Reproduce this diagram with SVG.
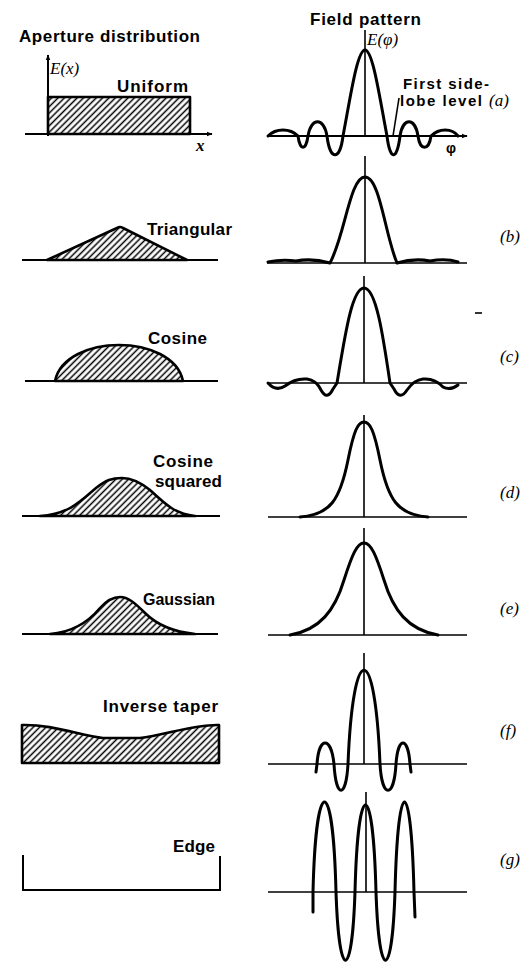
<svg xmlns="http://www.w3.org/2000/svg" width="524" height="962" viewBox="0 0 524 962">
<style>
.curve{fill:none;stroke:#000;stroke-width:3;stroke-linejoin:round;stroke-linecap:round}
.thin{fill:none;stroke:#000;stroke-width:1.6}
.base{fill:none;stroke:#000;stroke-width:2}
.shape{fill:url(#hatch);stroke:#000;stroke-width:2.6;stroke-linejoin:round}
.lbl{font-family:"Liberation Sans",Arial,sans-serif;font-size:17px;font-weight:bold;fill:#000}
.sm{font-size:15px}
.it{font-family:"Liberation Serif","Times New Roman",serif;font-style:italic;font-size:17px;fill:#000}
</style>
<defs>
<pattern id="hatch" patternUnits="userSpaceOnUse" width="4.5" height="4.5" patternTransform="rotate(45)">
<rect width="4.5" height="4.5" fill="#fff"/>
<line x1="2.25" y1="0" x2="2.25" y2="4.5" stroke="#000" stroke-width="1.5"/>
</pattern>
<marker id="arr" viewBox="0 0 10 10" refX="9" refY="5" markerWidth="6" markerHeight="6" orient="auto" markerUnits="userSpaceOnUse">
<path d="M0,1 L10,5 L0,9 Z" fill="#000"/>
</marker>
</defs>
<rect width="524" height="962" fill="#fff"/>

<!-- headings -->
<text class="lbl" x="19" y="42" textLength="181">Aperture distribution</text>
<text class="lbl" x="310" y="25" textLength="111">Field pattern</text>

<!-- (a) uniform -->
<g id="aperture-uniform">
<rect class="shape" x="48" y="97" width="142" height="37"/>
<line class="base" x1="48" y1="136" x2="48" y2="55" marker-end="url(#arr)"/>
<line class="base" x1="25" y1="134" x2="212" y2="134" marker-end="url(#arr)"/>
<text class="it" x="50" y="74">E(x)</text>
<text class="lbl" x="117" y="92" textLength="71">Uniform</text>
<text class="it" x="196" y="151" font-weight="bold">x</text>
</g>
<g id="pattern-a">
<line class="base" x1="268" y1="136" x2="467" y2="136" marker-end="url(#arr)"/>
<line class="thin" x1="365" y1="30" x2="365" y2="136"/>
<path class="curve" d="M268,136 C276,128 290,128 298,136 C300,151 306,151 308,136 C311,117 324,117 327,136 C330,161 340,161 343,136 C350,100 357,50 365,50 C373,50 380,100 387,136 C390,161 397,161 400,136 C403,117 415,117 418,136 C420,151 429,151 431,136 C439,128 452,128 458,136"/>
<line class="thin" x1="399" y1="98" x2="393" y2="136"/>
<text class="it" x="367" y="45">E(φ)</text>
<text class="lbl sm" x="403" y="89" textLength="86">First side-</text>
<text class="lbl sm" x="400" y="106" textLength="82">lobe level</text>
<text class="it" x="489" y="106">(a)</text>
<text class="lbl" x="446" y="153" style="font-size:14px">φ</text>
</g>

<!-- (b) triangular -->
<g id="aperture-triangular">
<line class="base" x1="22" y1="260" x2="218" y2="260"/>
<path class="shape" d="M47,260 L117,228 Q120,226 123,228 L187,260 Z"/>
<text class="lbl" x="147" y="235" textLength="85">Triangular</text>
</g>
<g id="pattern-b">
<line class="thin" x1="267" y1="263" x2="467" y2="263"/>
<line class="thin" x1="365" y1="156" x2="365" y2="263"/>
<path class="curve" d="M268,262 Q282,259 296,261 Q312,258 330,263 C345,235 350,177 365,177 C380,177 385,235 397,263 Q414,258 430,261 Q446,258 458,262"/>
<text class="it" x="500" y="242">(b)</text>
</g>

<!-- (c) cosine -->
<g id="aperture-cosine">
<line class="base" x1="25" y1="381" x2="218" y2="381"/>
<path class="shape" d="M55,381 C60,357 90,345 119,345 C148,345 178,357 183,381 Z"/>
<text class="lbl" x="148" y="344" textLength="59">Cosine</text>
</g>
<g id="pattern-c">
<line class="thin" x1="267" y1="383" x2="467" y2="383"/>
<line class="thin" x1="364" y1="276" x2="364" y2="383"/>
<path class="curve" d="M268,383 Q276,392 285,386 Q295,378 307,379 Q316,380 321,390 Q327,401 333,389 L337,383 C345,335 352,288 364,288 C376,288 383,335 390,383 L394,389 Q400,401 407,390 Q414,380 423,379 Q435,378 443,387 Q450,391 458,385"/>
<line class="thin" x1="475" y1="313" x2="482" y2="313"/>
<text class="it" x="500" y="362">(c)</text>
</g>

<!-- (d) cosine squared -->
<g id="aperture-cosine-squared">
<line class="base" x1="22" y1="516" x2="220" y2="516"/>
<path class="shape" d="M40,516 C70,514 82,500 96,488 C106,480 112,478 122,478 C132,478 140,482 150,490 C165,504 175,514 195,516 Z"/>
<text class="lbl" x="153" y="467" textLength="60">Cosine</text>
<text class="lbl" x="155" y="487" textLength="67">squared</text>
</g>
<g id="pattern-d">
<line class="thin" x1="268" y1="517" x2="467" y2="517"/>
<line class="thin" x1="364" y1="415" x2="364" y2="517"/>
<path class="curve" d="M300,517 C330,515 340,500 348,460 C354,430 358,422 364,422 C370,422 374,430 380,460 C388,500 398,515 428,517"/>
<text class="it" x="500" y="498">(d)</text>
</g>

<!-- (e) gaussian -->
<g id="aperture-gaussian">
<line class="base" x1="22" y1="634" x2="218" y2="634"/>
<path class="shape" d="M50,634 C75,632 90,620 100,608 C108,599 114,597 120,597 C128,597 135,603 145,613 C158,626 175,632 195,634 Z"/>
<text class="lbl" x="143" y="605" style="font-size:16px">Gaussian</text>
</g>
<g id="pattern-e">
<line class="thin" x1="268" y1="635" x2="467" y2="635"/>
<line class="thin" x1="364" y1="528" x2="364" y2="635"/>
<path class="curve" d="M290,635 C320,630 335,610 344,580 C352,555 357,543 364,543 C371,543 376,555 384,580 C393,610 408,630 438,635"/>
<text class="it" x="500" y="614">(e)</text>
</g>

<!-- (f) inverse taper -->
<g id="aperture-inverse-taper">
<path class="shape" d="M22,725 C50,724 80,735 103,738 L140,738 C165,735 195,724 219,725 L219,763 L22,763 Z"/>
<text class="lbl" x="103" y="712" textLength="115">Inverse taper</text>
</g>
<g id="pattern-f">
<line class="thin" x1="268" y1="764" x2="467" y2="764"/>
<line class="thin" x1="364" y1="653" x2="364" y2="764"/>
<path class="curve" d="M316,772 L317,764 C319,736 331,736 334,764 C336,799 346,799 348,764 C353,639 375,639 380,764 C382,799 394,799 396,764 C398,736 408,736 410,764 L411,772"/>
<text class="it" x="500" y="736">(f)</text>
</g>

<!-- (g) edge -->
<g id="aperture-edge">
<path class="base" d="M23,855 L23,890 L220,890 L220,856" stroke-width="2.6"/>
<text class="lbl" x="173" y="852" textLength="42">Edge</text>
</g>
<g id="pattern-g">
<line class="thin" x1="268" y1="892" x2="467" y2="892"/>
<line class="thin" x1="366" y1="792" x2="366" y2="892"/>
<path class="curve" d="M313,912 L313,892 C316,772 333,772 336,892 C339,983 352,983 355,892 C358,776 373,776 376,892 C379,983 392,983 395,892 C398,772 411,772 414,892 L415,917"/>
<text class="it" x="500" y="865">(g)</text>
</g>
</svg>
